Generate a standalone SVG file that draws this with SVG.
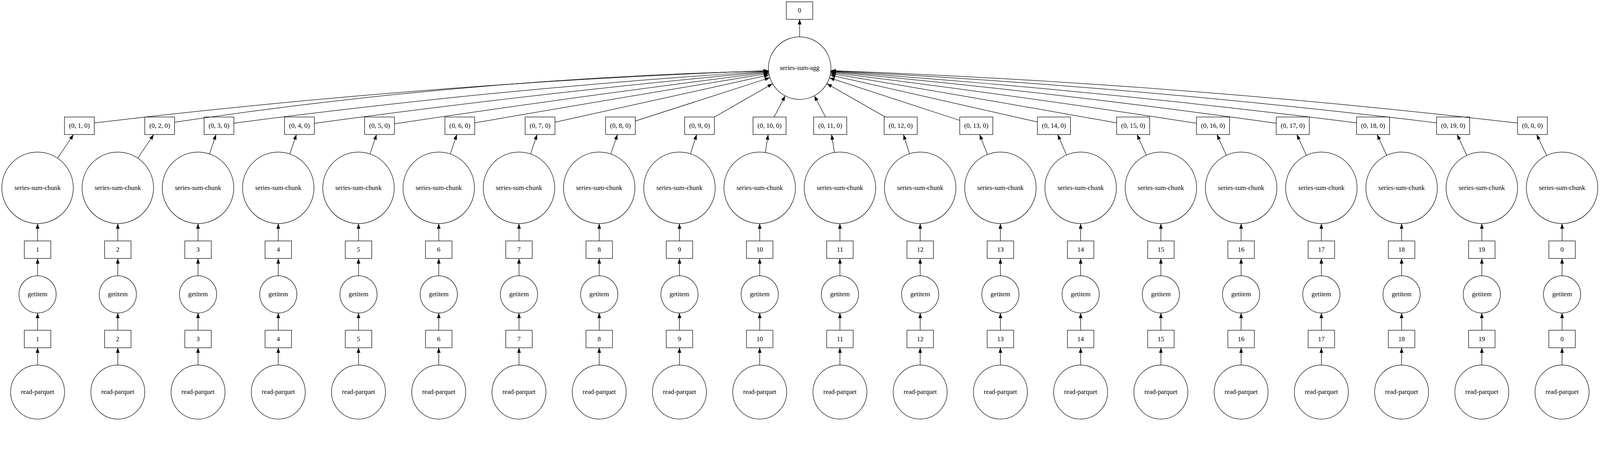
<svg xmlns="http://www.w3.org/2000/svg" width="4387" height="1154" viewBox="0 0 4387 1154">
<style>
.nd rect,.nd circle{fill:none;stroke:#000;stroke-width:1.33}
.nd text{font-family:"Liberation Serif","Times New Roman",serif;font-size:18px;text-anchor:middle;fill:#000}
.e path{fill:none;stroke:#000;stroke-width:1.33;marker-end:url(#a)}
</style>
<defs>
<marker id="a" markerUnits="userSpaceOnUse" markerWidth="14" markerHeight="10" refX="14" refY="5" orient="auto" overflow="visible">
<path d="M0,0 L14,5 L0,10 Z" fill="#000"/>
</marker>
</defs>
<rect x="0" y="0" width="4387" height="1154" fill="#fff"/>
<g id="diagram" transform="scale(0.933668,0.933668)">
<g id="connectors" class="e">
<path d="M2192.5,101 V53"/>
<path d="M258.7,337 Q1180.0,227.6 2107.2,193.5"/>
<path d="M478.6,335 Q1288.6,214.3 2107.2,194.4"/>
<path d="M640.8,337.7 Q1371.7,241.8 2107.3,195.2"/>
<path d="M861.7,338 Q1483.0,253.1 2107.5,196.5"/>
<path d="M1081.6,339.3 Q1593.8,262.5 2107.7,198.3"/>
<path d="M1301.8,336.7 Q1704.6,266.9 2108.1,201.0"/>
<path d="M1521.3,335 L2108.9,205.3"/>
<path d="M1742,331.7 L2111.0,212.9"/>
<path d="M1958.8,320.7 L2118.3,229.4"/>
<path d="M2122.5,320.7 L2152.9,262.6"/>
<path d="M2263.6,320.7 L2232.7,262.4"/>
<path d="M2427.5,320.7 L2267.0,229.2"/>
<path d="M2631.5,329.9 L2274.1,213.3"/>
<path d="M2844.5,334.4 L2276.2,205.6"/>
<path d="M3061.7,336.7 Q2669.7,267.0 2277.0,201.3"/>
<path d="M3280.6,337.7 Q2780.1,260.2 2277.5,198.5"/>
<path d="M3499.3,337.7 Q2890.2,252.3 2277.7,196.6"/>
<path d="M3719.5,336.7 Q3000.6,245.9 2277.8,195.3"/>
<path d="M3939,336.7 Q3111.0,236.4 2277.9,194.2"/>
<path d="M4160.8,337.3 Q3222.2,228.3 2278.0,193.4"/>
<path d="M157.8,433.5 L201.5,368.7"/>
<path d="M377.8,433.5 L421.6,368.7"/>
<path d="M574.4,421.9 L592.3,368.7"/>
<path d="M794.6,422.0 L812.8,368.7"/>
<path d="M1014.5,421.9 L1032.5,368.7"/>
<path d="M1234.6,421.9 L1252.6,368.7"/>
<path d="M1454.6,421.9 L1472.6,368.7"/>
<path d="M1674.7,421.9 L1692.9,368.7"/>
<path d="M1893.2,421.5 L1910.2,368.7"/>
<path d="M2098.4,417.9 L2106.2,368.7"/>
<path d="M2287.8,417.9 L2280.1,368.7"/>
<path d="M2493.6,421.2 L2477.1,368.7"/>
<path d="M2707.4,423.4 L2686.1,368.7"/>
<path d="M2924.2,424.7 L2900.1,368.7"/>
<path d="M3143.0,425.2 L3117.7,368.7"/>
<path d="M3362.5,425.4 L3336.8,368.7"/>
<path d="M3582.0,425.7 L3555.7,368.7"/>
<path d="M3802.1,425.7 L3775.8,368.7"/>
<path d="M4021.8,425.8 L3995.4,368.7"/>
<path d="M4240.8,426.3 L4213.3,368.7"/>
<path d="M103,1000.5 V953"/><path d="M103,905 V857.7"/><path d="M103,755.7 V708.3"/><path d="M103,660.3 V612.7"/>
<path d="M323,1000.5 V953"/><path d="M323,905 V857.7"/><path d="M323,755.7 V708.3"/><path d="M323,660.3 V612.7"/>
<path d="M543,1000.5 V953"/><path d="M543,905 V857.7"/><path d="M543,755.7 V708.3"/><path d="M543,660.3 V612.7"/>
<path d="M763,1000.5 V953"/><path d="M763,905 V857.7"/><path d="M763,755.7 V708.3"/><path d="M763,660.3 V612.7"/>
<path d="M983,1000.5 V953"/><path d="M983,905 V857.7"/><path d="M983,755.7 V708.3"/><path d="M983,660.3 V612.7"/>
<path d="M1203,1000.5 V953"/><path d="M1203,905 V857.7"/><path d="M1203,755.7 V708.3"/><path d="M1203,660.3 V612.7"/>
<path d="M1423,1000.5 V953"/><path d="M1423,905 V857.7"/><path d="M1423,755.7 V708.3"/><path d="M1423,660.3 V612.7"/>
<path d="M1643,1000.5 V953"/><path d="M1643,905 V857.7"/><path d="M1643,755.7 V708.3"/><path d="M1643,660.3 V612.7"/>
<path d="M1863,1000.5 V953"/><path d="M1863,905 V857.7"/><path d="M1863,755.7 V708.3"/><path d="M1863,660.3 V612.7"/>
<path d="M2083,1000.5 V953"/><path d="M2083,905 V857.7"/><path d="M2083,755.7 V708.3"/><path d="M2083,660.3 V612.7"/>
<path d="M2303,1000.5 V953"/><path d="M2303,905 V857.7"/><path d="M2303,755.7 V708.3"/><path d="M2303,660.3 V612.7"/>
<path d="M2523,1000.5 V953"/><path d="M2523,905 V857.7"/><path d="M2523,755.7 V708.3"/><path d="M2523,660.3 V612.7"/>
<path d="M2743,1000.5 V953"/><path d="M2743,905 V857.7"/><path d="M2743,755.7 V708.3"/><path d="M2743,660.3 V612.7"/>
<path d="M2963,1000.5 V953"/><path d="M2963,905 V857.7"/><path d="M2963,755.7 V708.3"/><path d="M2963,660.3 V612.7"/>
<path d="M3183,1000.5 V953"/><path d="M3183,905 V857.7"/><path d="M3183,755.7 V708.3"/><path d="M3183,660.3 V612.7"/>
<path d="M3403,1000.5 V953"/><path d="M3403,905 V857.7"/><path d="M3403,755.7 V708.3"/><path d="M3403,660.3 V612.7"/>
<path d="M3623,1000.5 V953"/><path d="M3623,905 V857.7"/><path d="M3623,755.7 V708.3"/><path d="M3623,660.3 V612.7"/>
<path d="M3843,1000.5 V953"/><path d="M3843,905 V857.7"/><path d="M3843,755.7 V708.3"/><path d="M3843,660.3 V612.7"/>
<path d="M4063,1000.5 V953"/><path d="M4063,905 V857.7"/><path d="M4063,755.7 V708.3"/><path d="M4063,660.3 V612.7"/>
<path d="M4283,1000.5 V953"/><path d="M4283,905 V857.7"/><path d="M4283,755.7 V708.3"/><path d="M4283,660.3 V612.7"/>
</g>
<g id="nodes" class="nd">
<g id="out-0"><rect x="2156" y="5" width="72.4" height="48"/><text x="2192.2" y="34.5">0</text></g>
<g id="series-sum-agg"><circle cx="2192.6" cy="186.7" r="85.7"/><text x="2192.6" y="192.2">series-sum-agg</text></g>

<g id="tup-1"><rect x="176.85" y="320.7" width="81.7" height="48"/><text x="217.7" y="350.2">(0, 1, 0)</text></g>
<g id="tup-2"><rect x="396.95" y="320.7" width="81.7" height="48"/><text x="437.8" y="350.2">(0, 2, 0)</text></g>
<g id="tup-3"><rect x="559.55" y="320.7" width="81.7" height="48"/><text x="600.4" y="350.2">(0, 3, 0)</text></g>
<g id="tup-4"><rect x="780.15" y="320.7" width="81.7" height="48"/><text x="821" y="350.2">(0, 4, 0)</text></g>
<g id="tup-5"><rect x="999.75" y="320.7" width="81.7" height="48"/><text x="1040.6" y="350.2">(0, 5, 0)</text></g>
<g id="tup-6"><rect x="1219.95" y="320.7" width="81.7" height="48"/><text x="1260.8" y="350.2">(0, 6, 0)</text></g>
<g id="tup-7"><rect x="1439.95" y="320.7" width="81.7" height="48"/><text x="1480.8" y="350.2">(0, 7, 0)</text></g>
<g id="tup-8"><rect x="1660.25" y="320.7" width="81.7" height="48"/><text x="1701.1" y="350.2">(0, 8, 0)</text></g>
<g id="tup-9"><rect x="1877.15" y="320.7" width="81.7" height="48"/><text x="1918" y="350.2">(0, 9, 0)</text></g>
<g id="tup-10"><rect x="2064.65" y="320.7" width="90.7" height="48"/><text x="2110" y="350.2">(0, 10, 0)</text></g>
<g id="tup-11"><rect x="2230.95" y="320.7" width="90.7" height="48"/><text x="2276.3" y="350.2">(0, 11, 0)</text></g>
<g id="tup-12"><rect x="2424.25" y="320.7" width="90.7" height="48"/><text x="2469.6" y="350.2">(0, 12, 0)</text></g>
<g id="tup-13"><rect x="2631.45" y="320.7" width="90.7" height="48"/><text x="2676.8" y="350.2">(0, 13, 0)</text></g>
<g id="tup-14"><rect x="2844.45" y="320.7" width="90.7" height="48"/><text x="2889.8" y="350.2">(0, 14, 0)</text></g>
<g id="tup-15"><rect x="3061.65" y="320.7" width="90.7" height="48"/><text x="3107" y="350.2">(0, 15, 0)</text></g>
<g id="tup-16"><rect x="3280.55" y="320.7" width="90.7" height="48"/><text x="3325.9" y="350.2">(0, 16, 0)</text></g>
<g id="tup-17"><rect x="3499.25" y="320.7" width="90.7" height="48"/><text x="3544.6" y="350.2">(0, 17, 0)</text></g>
<g id="tup-18"><rect x="3719.45" y="320.7" width="90.7" height="48"/><text x="3764.8" y="350.2">(0, 18, 0)</text></g>
<g id="tup-19"><rect x="3938.95" y="320.7" width="90.7" height="48"/><text x="3984.3" y="350.2">(0, 19, 0)</text></g>
<g id="tup-0"><rect x="4160.95" y="320.7" width="81.7" height="48"/><text x="4201.8" y="350.2">(0, 0, 0)</text></g>

<g id="chunk-1"><circle cx="103" cy="514.7" r="98"/><text x="103" y="520.2">series-sum-chunk</text></g>
<g id="chunk-2"><circle cx="323" cy="514.7" r="98"/><text x="323" y="520.2">series-sum-chunk</text></g>
<g id="chunk-3"><circle cx="543" cy="514.7" r="98"/><text x="543" y="520.2">series-sum-chunk</text></g>
<g id="chunk-4"><circle cx="763" cy="514.7" r="98"/><text x="763" y="520.2">series-sum-chunk</text></g>
<g id="chunk-5"><circle cx="983" cy="514.7" r="98"/><text x="983" y="520.2">series-sum-chunk</text></g>
<g id="chunk-6"><circle cx="1203" cy="514.7" r="98"/><text x="1203" y="520.2">series-sum-chunk</text></g>
<g id="chunk-7"><circle cx="1423" cy="514.7" r="98"/><text x="1423" y="520.2">series-sum-chunk</text></g>
<g id="chunk-8"><circle cx="1643" cy="514.7" r="98"/><text x="1643" y="520.2">series-sum-chunk</text></g>
<g id="chunk-9"><circle cx="1863" cy="514.7" r="98"/><text x="1863" y="520.2">series-sum-chunk</text></g>
<g id="chunk-10"><circle cx="2083" cy="514.7" r="98"/><text x="2083" y="520.2">series-sum-chunk</text></g>
<g id="chunk-11"><circle cx="2303" cy="514.7" r="98"/><text x="2303" y="520.2">series-sum-chunk</text></g>
<g id="chunk-12"><circle cx="2523" cy="514.7" r="98"/><text x="2523" y="520.2">series-sum-chunk</text></g>
<g id="chunk-13"><circle cx="2743" cy="514.7" r="98"/><text x="2743" y="520.2">series-sum-chunk</text></g>
<g id="chunk-14"><circle cx="2963" cy="514.7" r="98"/><text x="2963" y="520.2">series-sum-chunk</text></g>
<g id="chunk-15"><circle cx="3183" cy="514.7" r="98"/><text x="3183" y="520.2">series-sum-chunk</text></g>
<g id="chunk-16"><circle cx="3403" cy="514.7" r="98"/><text x="3403" y="520.2">series-sum-chunk</text></g>
<g id="chunk-17"><circle cx="3623" cy="514.7" r="98"/><text x="3623" y="520.2">series-sum-chunk</text></g>
<g id="chunk-18"><circle cx="3843" cy="514.7" r="98"/><text x="3843" y="520.2">series-sum-chunk</text></g>
<g id="chunk-19"><circle cx="4063" cy="514.7" r="98"/><text x="4063" y="520.2">series-sum-chunk</text></g>
<g id="chunk-0"><circle cx="4283" cy="514.7" r="98"/><text x="4283" y="520.2">series-sum-chunk</text></g>

<g id="key-b-1"><rect x="66.7" y="660.3" width="72.6" height="48"/><text x="103" y="689.8">1</text></g>
<g id="key-b-2"><rect x="286.7" y="660.3" width="72.6" height="48"/><text x="323" y="689.8">2</text></g>
<g id="key-b-3"><rect x="506.7" y="660.3" width="72.6" height="48"/><text x="543" y="689.8">3</text></g>
<g id="key-b-4"><rect x="726.7" y="660.3" width="72.6" height="48"/><text x="763" y="689.8">4</text></g>
<g id="key-b-5"><rect x="946.7" y="660.3" width="72.6" height="48"/><text x="983" y="689.8">5</text></g>
<g id="key-b-6"><rect x="1166.7" y="660.3" width="72.6" height="48"/><text x="1203" y="689.8">6</text></g>
<g id="key-b-7"><rect x="1386.7" y="660.3" width="72.6" height="48"/><text x="1423" y="689.8">7</text></g>
<g id="key-b-8"><rect x="1606.7" y="660.3" width="72.6" height="48"/><text x="1643" y="689.8">8</text></g>
<g id="key-b-9"><rect x="1826.7" y="660.3" width="72.6" height="48"/><text x="1863" y="689.8">9</text></g>
<g id="key-b-10"><rect x="2046.7" y="660.3" width="72.6" height="48"/><text x="2083" y="689.8">10</text></g>
<g id="key-b-11"><rect x="2266.7" y="660.3" width="72.6" height="48"/><text x="2303" y="689.8">11</text></g>
<g id="key-b-12"><rect x="2486.7" y="660.3" width="72.6" height="48"/><text x="2523" y="689.8">12</text></g>
<g id="key-b-13"><rect x="2706.7" y="660.3" width="72.6" height="48"/><text x="2743" y="689.8">13</text></g>
<g id="key-b-14"><rect x="2926.7" y="660.3" width="72.6" height="48"/><text x="2963" y="689.8">14</text></g>
<g id="key-b-15"><rect x="3146.7" y="660.3" width="72.6" height="48"/><text x="3183" y="689.8">15</text></g>
<g id="key-b-16"><rect x="3366.7" y="660.3" width="72.6" height="48"/><text x="3403" y="689.8">16</text></g>
<g id="key-b-17"><rect x="3586.7" y="660.3" width="72.6" height="48"/><text x="3623" y="689.8">17</text></g>
<g id="key-b-18"><rect x="3806.7" y="660.3" width="72.6" height="48"/><text x="3843" y="689.8">18</text></g>
<g id="key-b-19"><rect x="4026.7" y="660.3" width="72.6" height="48"/><text x="4063" y="689.8">19</text></g>
<g id="key-b-0"><rect x="4246.7" y="660.3" width="72.6" height="48"/><text x="4283" y="689.8">0</text></g>

<g id="getitem-1"><circle cx="103" cy="806.7" r="51"/><text x="103" y="812.2">getitem</text></g>
<g id="getitem-2"><circle cx="323" cy="806.7" r="51"/><text x="323" y="812.2">getitem</text></g>
<g id="getitem-3"><circle cx="543" cy="806.7" r="51"/><text x="543" y="812.2">getitem</text></g>
<g id="getitem-4"><circle cx="763" cy="806.7" r="51"/><text x="763" y="812.2">getitem</text></g>
<g id="getitem-5"><circle cx="983" cy="806.7" r="51"/><text x="983" y="812.2">getitem</text></g>
<g id="getitem-6"><circle cx="1203" cy="806.7" r="51"/><text x="1203" y="812.2">getitem</text></g>
<g id="getitem-7"><circle cx="1423" cy="806.7" r="51"/><text x="1423" y="812.2">getitem</text></g>
<g id="getitem-8"><circle cx="1643" cy="806.7" r="51"/><text x="1643" y="812.2">getitem</text></g>
<g id="getitem-9"><circle cx="1863" cy="806.7" r="51"/><text x="1863" y="812.2">getitem</text></g>
<g id="getitem-10"><circle cx="2083" cy="806.7" r="51"/><text x="2083" y="812.2">getitem</text></g>
<g id="getitem-11"><circle cx="2303" cy="806.7" r="51"/><text x="2303" y="812.2">getitem</text></g>
<g id="getitem-12"><circle cx="2523" cy="806.7" r="51"/><text x="2523" y="812.2">getitem</text></g>
<g id="getitem-13"><circle cx="2743" cy="806.7" r="51"/><text x="2743" y="812.2">getitem</text></g>
<g id="getitem-14"><circle cx="2963" cy="806.7" r="51"/><text x="2963" y="812.2">getitem</text></g>
<g id="getitem-15"><circle cx="3183" cy="806.7" r="51"/><text x="3183" y="812.2">getitem</text></g>
<g id="getitem-16"><circle cx="3403" cy="806.7" r="51"/><text x="3403" y="812.2">getitem</text></g>
<g id="getitem-17"><circle cx="3623" cy="806.7" r="51"/><text x="3623" y="812.2">getitem</text></g>
<g id="getitem-18"><circle cx="3843" cy="806.7" r="51"/><text x="3843" y="812.2">getitem</text></g>
<g id="getitem-19"><circle cx="4063" cy="806.7" r="51"/><text x="4063" y="812.2">getitem</text></g>
<g id="getitem-0"><circle cx="4283" cy="806.7" r="51"/><text x="4283" y="812.2">getitem</text></g>

<g id="key-a-1"><rect x="66.7" y="905" width="72.6" height="48"/><text x="103" y="934.5">1</text></g>
<g id="key-a-2"><rect x="286.7" y="905" width="72.6" height="48"/><text x="323" y="934.5">2</text></g>
<g id="key-a-3"><rect x="506.7" y="905" width="72.6" height="48"/><text x="543" y="934.5">3</text></g>
<g id="key-a-4"><rect x="726.7" y="905" width="72.6" height="48"/><text x="763" y="934.5">4</text></g>
<g id="key-a-5"><rect x="946.7" y="905" width="72.6" height="48"/><text x="983" y="934.5">5</text></g>
<g id="key-a-6"><rect x="1166.7" y="905" width="72.6" height="48"/><text x="1203" y="934.5">6</text></g>
<g id="key-a-7"><rect x="1386.7" y="905" width="72.6" height="48"/><text x="1423" y="934.5">7</text></g>
<g id="key-a-8"><rect x="1606.7" y="905" width="72.6" height="48"/><text x="1643" y="934.5">8</text></g>
<g id="key-a-9"><rect x="1826.7" y="905" width="72.6" height="48"/><text x="1863" y="934.5">9</text></g>
<g id="key-a-10"><rect x="2046.7" y="905" width="72.6" height="48"/><text x="2083" y="934.5">10</text></g>
<g id="key-a-11"><rect x="2266.7" y="905" width="72.6" height="48"/><text x="2303" y="934.5">11</text></g>
<g id="key-a-12"><rect x="2486.7" y="905" width="72.6" height="48"/><text x="2523" y="934.5">12</text></g>
<g id="key-a-13"><rect x="2706.7" y="905" width="72.6" height="48"/><text x="2743" y="934.5">13</text></g>
<g id="key-a-14"><rect x="2926.7" y="905" width="72.6" height="48"/><text x="2963" y="934.5">14</text></g>
<g id="key-a-15"><rect x="3146.7" y="905" width="72.6" height="48"/><text x="3183" y="934.5">15</text></g>
<g id="key-a-16"><rect x="3366.7" y="905" width="72.6" height="48"/><text x="3403" y="934.5">16</text></g>
<g id="key-a-17"><rect x="3586.7" y="905" width="72.6" height="48"/><text x="3623" y="934.5">17</text></g>
<g id="key-a-18"><rect x="3806.7" y="905" width="72.6" height="48"/><text x="3843" y="934.5">18</text></g>
<g id="key-a-19"><rect x="4026.7" y="905" width="72.6" height="48"/><text x="4063" y="934.5">19</text></g>
<g id="key-a-0"><rect x="4246.7" y="905" width="72.6" height="48"/><text x="4283" y="934.5">0</text></g>

<g id="read-1"><circle cx="103" cy="1074.5" r="74"/><text x="103" y="1080">read-parquet</text></g>
<g id="read-2"><circle cx="323" cy="1074.5" r="74"/><text x="323" y="1080">read-parquet</text></g>
<g id="read-3"><circle cx="543" cy="1074.5" r="74"/><text x="543" y="1080">read-parquet</text></g>
<g id="read-4"><circle cx="763" cy="1074.5" r="74"/><text x="763" y="1080">read-parquet</text></g>
<g id="read-5"><circle cx="983" cy="1074.5" r="74"/><text x="983" y="1080">read-parquet</text></g>
<g id="read-6"><circle cx="1203" cy="1074.5" r="74"/><text x="1203" y="1080">read-parquet</text></g>
<g id="read-7"><circle cx="1423" cy="1074.5" r="74"/><text x="1423" y="1080">read-parquet</text></g>
<g id="read-8"><circle cx="1643" cy="1074.5" r="74"/><text x="1643" y="1080">read-parquet</text></g>
<g id="read-9"><circle cx="1863" cy="1074.5" r="74"/><text x="1863" y="1080">read-parquet</text></g>
<g id="read-10"><circle cx="2083" cy="1074.5" r="74"/><text x="2083" y="1080">read-parquet</text></g>
<g id="read-11"><circle cx="2303" cy="1074.5" r="74"/><text x="2303" y="1080">read-parquet</text></g>
<g id="read-12"><circle cx="2523" cy="1074.5" r="74"/><text x="2523" y="1080">read-parquet</text></g>
<g id="read-13"><circle cx="2743" cy="1074.5" r="74"/><text x="2743" y="1080">read-parquet</text></g>
<g id="read-14"><circle cx="2963" cy="1074.5" r="74"/><text x="2963" y="1080">read-parquet</text></g>
<g id="read-15"><circle cx="3183" cy="1074.5" r="74"/><text x="3183" y="1080">read-parquet</text></g>
<g id="read-16"><circle cx="3403" cy="1074.5" r="74"/><text x="3403" y="1080">read-parquet</text></g>
<g id="read-17"><circle cx="3623" cy="1074.5" r="74"/><text x="3623" y="1080">read-parquet</text></g>
<g id="read-18"><circle cx="3843" cy="1074.5" r="74"/><text x="3843" y="1080">read-parquet</text></g>
<g id="read-19"><circle cx="4063" cy="1074.5" r="74"/><text x="4063" y="1080">read-parquet</text></g>
<g id="read-0"><circle cx="4283" cy="1074.5" r="74"/><text x="4283" y="1080">read-parquet</text></g>
</g>
</g>
</svg>
